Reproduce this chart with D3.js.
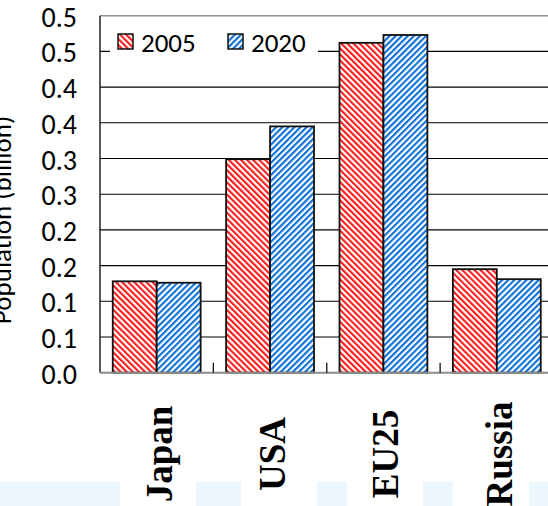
<!DOCTYPE html>
<html>
<head>
<meta charset="utf-8">
<script src="https://cdn.jsdelivr.net/npm/d3@7"></script>
<style>
  html, body { margin: 0; padding: 0; background: #fff; }
  svg { display: block; }
</style>
</head>
<body>
<div id="chart"></div>
<script>
// Population by region, 2005 vs projected 2020 (billions)
const categories = ["Japan", "USA", "EU25", "Russia"];
const years = ["2005", "2020"];
const pop2005 = [0.128, 0.299, 0.462, 0.145];
const pop2020 = [0.126, 0.345, 0.473, 0.131];
const yTickValues = [0, 0.05, 0.1, 0.15, 0.2, 0.25, 0.3, 0.35, 0.4, 0.45, 0.5];
const yTickLabels = ["0.0", "0.1", "0.1", "0.2", "0.2", "0.3", "0.3", "0.4", "0.4", "0.5", "0.5"];
const yTitle = "Population (billion)";

const W = 548, H = 506;
const plot = { left: 100, top: 15.7, bottom: 372.7, right: 553.5 };
const sansFont = "Carlito, Calibri, Lato, sans-serif";
const serifFont = "'Liberation Serif', 'Times New Roman', serif";

const svg = d3.select("#chart").append("svg")
  .attr("width", W).attr("height", H)
  .style("background", "#fff");

// hatch fills
const defs = svg.append("defs");
function hatch(id, color, angle) {
  const p = defs.append("pattern")
    .attr("id", id)
    .attr("patternUnits", "userSpaceOnUse")
    .attr("width", 4.3).attr("height", 10)
    .attr("patternTransform", `rotate(${angle})`);
  p.append("rect").attr("width", 4.3).attr("height", 10).attr("fill", "#fff");
  p.append("rect").attr("width", 2.1).attr("height", 10).attr("fill", color);
}
hatch("hatch2005", "#ff1a1a", -45);
hatch("hatch2020", "#0b6fd4", 45);
const fillFor = { "2005": "url(#hatch2005)", "2020": "url(#hatch2020)" };

// decorative pale strip along the bottom edge
const strip = [[0, 120], [196, 241], [317, 347], [423, 453], [529, 548]];
svg.append("g").selectAll("rect").data(strip).join("rect")
  .attr("x", d => d[0]).attr("y", 482)
  .attr("width", d => d[1] - d[0]).attr("height", H - 482)
  .attr("fill", "#ebf6fd");

const x = d3.scaleBand().domain(categories).range([plot.left, plot.right]).paddingInner(0).paddingOuter(0);
const xs = d3.scaleBand().domain(years).range([0, x.bandwidth()]).paddingInner(0).paddingOuter(0.29);
const y = d3.scaleLinear().domain([0, 0.5]).range([plot.bottom, plot.top]);

// horizontal gridlines
svg.append("g").selectAll("line").data(yTickValues.filter(v => v > 0 && v < 0.5)).join("line")
  .attr("x1", plot.left).attr("x2", W)
  .attr("y1", d => y(d)).attr("y2", d => y(d))
  .attr("stroke", "#000").attr("stroke-width", 1.1);

// top border
svg.append("line")
  .attr("x1", plot.left).attr("x2", W)
  .attr("y1", y(0.5)).attr("y2", y(0.5))
  .attr("stroke", "#8c8c8c").attr("stroke-width", 1.5);

// bars
const rows = categories.map((c, i) => ({ cat: c, values: [
  { year: "2005", v: pop2005[i] }, { year: "2020", v: pop2020[i] } ] }));
const groups = svg.append("g").selectAll("g").data(rows).join("g")
  .attr("transform", d => `translate(${x(d.cat)},0)`);
groups.selectAll("rect").data(d => d.values).join("rect")
  .attr("x", d => xs(d.year))
  .attr("y", d => y(d.v))
  .attr("width", xs.bandwidth())
  .attr("height", d => y(0) - y(d.v))
  .attr("fill", d => fillFor[d.year])
  .attr("stroke", "#111").attr("stroke-width", 1.8);

// left axis line
svg.append("line")
  .attr("x1", plot.left).attr("x2", plot.left)
  .attr("y1", plot.top).attr("y2", plot.bottom)
  .attr("stroke", "#222").attr("stroke-width", 1.5);

// bottom axis with inward category ticks
svg.append("line")
  .attr("x1", plot.left).attr("x2", W)
  .attr("y1", plot.bottom).attr("y2", plot.bottom)
  .attr("stroke", "#8c8c8c").attr("stroke-width", 2);
svg.append("g").selectAll("line").data(categories.slice(1)).join("line")
  .attr("x1", d => x(d)).attr("x2", d => x(d))
  .attr("y1", plot.bottom - 10).attr("y2", plot.bottom)
  .attr("stroke", "#111").attr("stroke-width", 1.3);

// y tick labels
svg.append("g").selectAll("text").data(yTickValues).join("text")
  .attr("x", 77)
  .attr("y", d => y(d) + 1.5)
  .attr("text-anchor", "end")
  .attr("dominant-baseline", "central")
  .attr("font-family", sansFont)
  .attr("font-size", 28)
  .attr("fill", "#000")
  .text((d, i) => yTickLabels[i]);

// y axis title
svg.append("text")
  .attr("transform", `translate(11,220) rotate(-90)`)
  .attr("text-anchor", "middle")
  .attr("font-family", sansFont)
  .attr("font-size", 27)
  .attr("fill", "#000")
  .text(yTitle);

// category labels
svg.append("g").selectAll("text").data(categories).join("text")
  .attr("transform", d => `translate(${x(d) + x.bandwidth() / 2 + 15},454) rotate(-90)`)
  .attr("text-anchor", "middle")
  .attr("font-family", serifFont)
  .attr("font-weight", "bold")
  .attr("font-size", 37)
  .attr("fill", "#000")
  .text(d => d);

// legend
const legend = svg.append("g");
legend.append("rect")
  .attr("x", 110).attr("y", 26).attr("width", 208).attr("height", 34)
  .attr("fill", "#fff");
const items = legend.selectAll("g").data(years).join("g")
  .attr("transform", (d, i) => `translate(${118 + i * 110},34)`);
items.append("rect")
  .attr("width", 15).attr("height", 15)
  .attr("fill", d => fillFor[d])
  .attr("stroke", "#111").attr("stroke-width", 1.5);
items.append("text")
  .attr("x", 23).attr("y", 18)
  .attr("font-family", sansFont)
  .attr("font-size", 27)
  .attr("fill", "#000")
  .text(d => d);
</script>
</body>
</html>
